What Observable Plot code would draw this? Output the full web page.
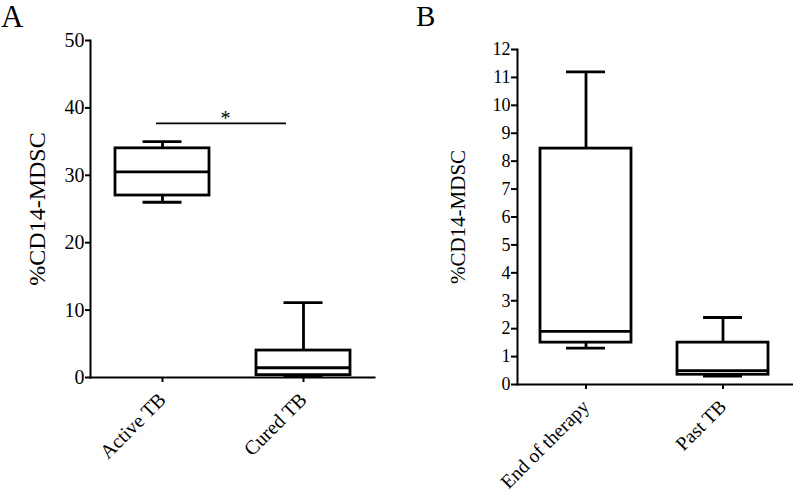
<!DOCTYPE html>
<html>
<head>
<meta charset="utf-8">
<script src="https://cdn.jsdelivr.net/npm/d3@7"></script>
<script src="https://cdn.jsdelivr.net/npm/@observablehq/plot@0.6"></script>
<style>
  html, body { margin: 0; padding: 0; background: #fff; }
  #wrap { position: relative; width: 793px; height: 496px; overflow: hidden; background: #fff; font-family: "Liberation Serif", "Times New Roman", serif; color: #000; }
  #wrap svg, #wrap svg text { font-family: "Liberation Serif", "Times New Roman", serif !important; }
  .panel { position: absolute; top: 0; }
  .letter { position: absolute; font-family: "Liberation Serif", serif; line-height: normal; }
</style>
</head>
<body>
<div id="wrap">
  <div class="letter" style="left:1px; top:-1px; font-size:31px;">A</div>
  <div class="letter" style="left:416px; top:0px; font-size:29px;">B</div>
  <div class="panel" id="pa" style="left:0px;"></div>
  <div class="panel" id="pb" style="left:400px;"></div>
</div>
<script>
// Panel A data
const catsA = ["Active TB", "Cured TB"];
const minA = [26, 0.15];
const q1A = [27, 0.35];
const medA = [30.5, 1.45];
const q3A = [34, 4.0];
const maxA = [35, 11.1];
const ticksA = [0, 10, 20, 30, 40, 50];
const sigFrom = "Active TB", sigTo = "Cured TB", sigY = 37.7, sigLabel = "*";

// Panel B data
const catsB = ["End of therapy", "Past TB"];
const minB = [1.3, 0.3];
const q1B = [1.5, 0.35];
const medB = [1.9, 0.5];
const q3B = [8.45, 1.5];
const maxB = [11.2, 2.4];
const ticksB = [0, 1, 2, 3, 4, 5, 6, 7, 8, 9, 10, 11, 12];

const yLabel = "%CD14-MDSC";

function rows(cats, mn, q1, md, q3, mx) {
  return cats.map((c, i) => ({cat: c, min: mn[i], q1: q1[i], med: md[i], q3: q3[i], max: mx[i]}));
}
const dataA = rows(catsA, minA, q1A, medA, q3A, maxA);
const dataB = rows(catsB, minB, q1B, medB, q3B, maxB);

function boxMarks(data, capInset) {
  const sw = 2.8;
  return [
    Plot.ruleX(data, {x: "cat", y1: "min", y2: "q1", stroke: "black", strokeWidth: sw}),
    Plot.ruleX(data, {x: "cat", y1: "q3", y2: "max", stroke: "black", strokeWidth: sw}),
    Plot.tickY(data, {x: "cat", y: "min", stroke: "black", strokeWidth: sw, insetLeft: capInset, insetRight: capInset}),
    Plot.tickY(data, {x: "cat", y: "max", stroke: "black", strokeWidth: sw, insetLeft: capInset, insetRight: capInset}),
    Plot.barY(data, {x: "cat", y1: "q1", y2: "q3", fill: "white", stroke: "black", strokeWidth: sw}),
    Plot.tickY(data, {x: "cat", y: "med", stroke: "black", strokeWidth: sw})
  ];
}

const serif = "'Liberation Serif', serif";

const plotA = Plot.plot({
  width: 400, height: 496,
  marginLeft: 90, marginRight: 26, marginTop: 40, marginBottom: 119,
  style: {fontFamily: serif, fontSize: "20px", color: "black", background: "transparent", overflow: "visible"},
  x: {type: "band", domain: catsA, range: [91.5, 373.5], paddingInner: 0.334, paddingOuter: 0.167},
  y: {domain: [0, 50]},
  marks: [
    ...boxMarks(dataA, 27.5),
    Plot.ruleY([{from: sigFrom, to: sigTo, y: sigY}], {x1: "from", x2: "to", y: "y", insetLeft: 41, insetRight: 64, stroke: "black", strokeWidth: 1.6}),
    Plot.text([{at: sigFrom, y: sigY, t: sigLabel}], {x: "at", y: "y", text: "t", dx: 63, dy: 2, lineAnchor: "bottom", fontSize: 20}),
    Plot.frame({anchor: "left", stroke: "black", strokeWidth: 2}),
    Plot.frame({anchor: "bottom", stroke: "black", strokeWidth: 2}),
    Plot.axisY({ticks: ticksA, tickSize: 5, tickPadding: 1, fontSize: 20, strokeWidth: 2, label: yLabel, labelAnchor: "center", labelArrow: "none", labelOffset: 63}),
    Plot.axisX({tickRotate: -45, tickSize: 5, tickPadding: 14, fontSize: 20, strokeWidth: 2, label: null})
  ]
});
document.getElementById("pa").appendChild(plotA);

const plotB = Plot.plot({
  width: 393, height: 496,
  marginLeft: 117, marginRight: 1, marginTop: 49, marginBottom: 112,
  style: {fontFamily: serif, fontSize: "18px", color: "black", background: "transparent", overflow: "visible"},
  x: {type: "band", domain: catsB, paddingInner: 0.334, paddingOuter: 0.167},
  y: {domain: [0, 12]},
  marks: [
    ...boxMarks(dataB, 26),
    Plot.frame({anchor: "left", stroke: "black", strokeWidth: 2}),
    Plot.frame({anchor: "bottom", stroke: "black", strokeWidth: 2}),
    Plot.axisY({ticks: ticksB, tickSize: 6, tickPadding: 1, fontSize: 18, strokeWidth: 2, label: yLabel, labelAnchor: "center", labelArrow: "none", labelOffset: 67}),
    Plot.axisX({tickRotate: -45, tickSize: 5, tickPadding: 14, fontSize: 19.5, strokeWidth: 2, label: null})
  ]
});
document.getElementById("pb").appendChild(plotB);

// axis label font sizes and explicit serif family
for (const [p, fs] of [[plotA, 24], [plotB, 21]]) {
  p.querySelectorAll("g[aria-label='y-axis label'] text").forEach(t => t.setAttribute("font-size", fs));
  p.querySelectorAll("text").forEach(t => t.setAttribute("font-family", "Liberation Serif"));
}
</script>
</body>
</html>
